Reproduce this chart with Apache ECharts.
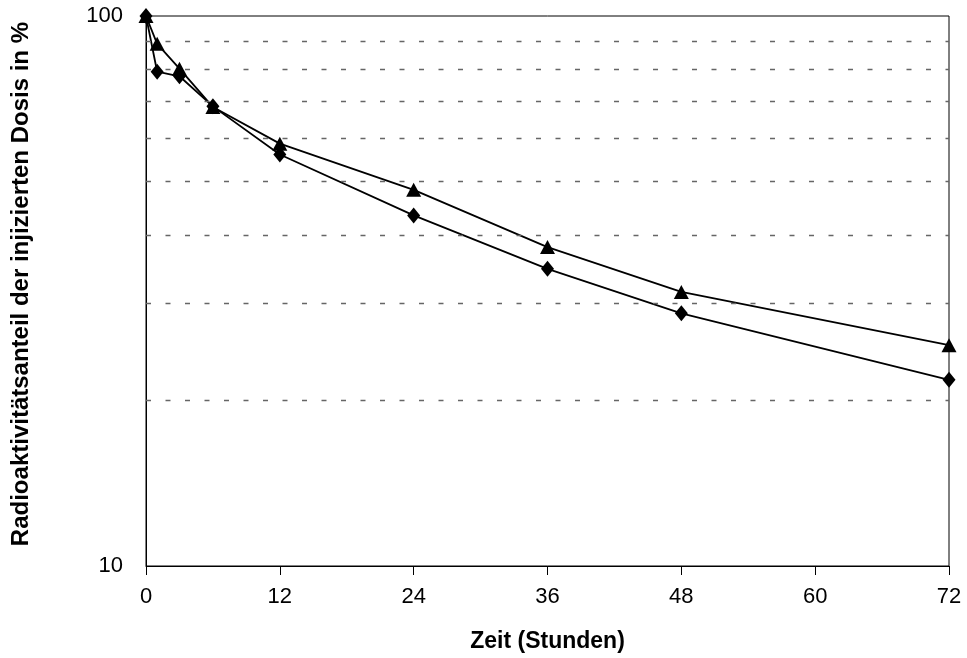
<!DOCTYPE html>
<html>
<head>
<meta charset="utf-8">
<script src="https://cdn.jsdelivr.net/npm/echarts@6/dist/echarts.min.js"></script>
<style>html,body{margin:0;padding:0;background:#fff}#c{width:967px;height:658px}</style>
</head>
<body>
<div id="c"></div>
<script>
var hours = [0, 1, 3, 6, 12, 24, 36, 48, 72];
var triangleValues = [100, 89, 80.2, 68.3, 58.6, 48.3, 38.0, 31.5, 25.2];
var diamondValues = [100, 79.2, 77.7, 68.5, 56.0, 43.4, 34.7, 28.8, 21.8];
var gridValues = [20, 30, 40, 50, 60, 70, 80, 90];
var xTicks = [0, 12, 24, 36, 48, 60, 72];
var xTitle = 'Zeit (Stunden)';
var yTitle = 'Radioaktivitätsanteil der injizierten Dosis in %';

function pairs(xs, ys) { return xs.map(function (x, i) { return [x, ys[i]]; }); }

var chart = echarts.init(document.getElementById('c'), null, { renderer: 'canvas' });
var font = 'Liberation Sans, Arial, sans-serif';
chart.setOption({
  animation: false,
  backgroundColor: '#fff',
  grid: { left: 146, right: 18, top: 16, bottom: 92, show: true, borderColor: '#000', borderWidth: 1, backgroundColor: 'transparent' },
  graphic: [{
    type: 'text', left: 9, top: 22, rotation: Math.PI / 2,
    style: { text: yTitle, font: 'bold 24px ' + font, fill: '#000' }
  }],
  xAxis: {
    type: 'value', min: xTicks[0], max: xTicks[xTicks.length - 1], interval: 12,
    name: xTitle, nameLocation: 'middle', nameGap: 64,
    nameTextStyle: { fontFamily: font, fontSize: 23, fontWeight: 'bold', color: '#000' },
    axisLine: { show: true, lineStyle: { color: '#000', width: 1 } },
    axisTick: { show: true, inside: false, length: 9, lineStyle: { color: '#000' } },
    axisLabel: { fontFamily: font, fontSize: 22, color: '#000', margin: 20 },
    splitLine: { show: false }
  },
  yAxis: {
    type: 'log', logBase: 10, min: 10, max: 100,
    axisLine: { show: true, lineStyle: { color: '#000', width: 1 } },
    axisTick: { show: false },
    axisLabel: { fontFamily: font, fontSize: 22, color: '#000', margin: 23 },
    splitLine: { show: false }
  },
  series: [
    {
      type: 'line', data: pairs(hours, diamondValues), symbol: 'diamond', symbolSize: [13, 16],
      itemStyle: { color: '#000' }, lineStyle: { color: '#000', width: 1.8 },
      markLine: {
        silent: true, symbol: 'none', label: { show: false },
        lineStyle: { color: '#666', type: [5, 14.5], width: 1.3 },
        data: gridValues.map(function (v) { return { yAxis: v }; })
      }
    },
    {
      type: 'line', data: pairs(hours, triangleValues), symbol: 'triangle', symbolSize: [15, 14],
      itemStyle: { color: '#000' }, lineStyle: { color: '#000', width: 1.8 }
    }
  ]
});
</script>
</body>
</html>
